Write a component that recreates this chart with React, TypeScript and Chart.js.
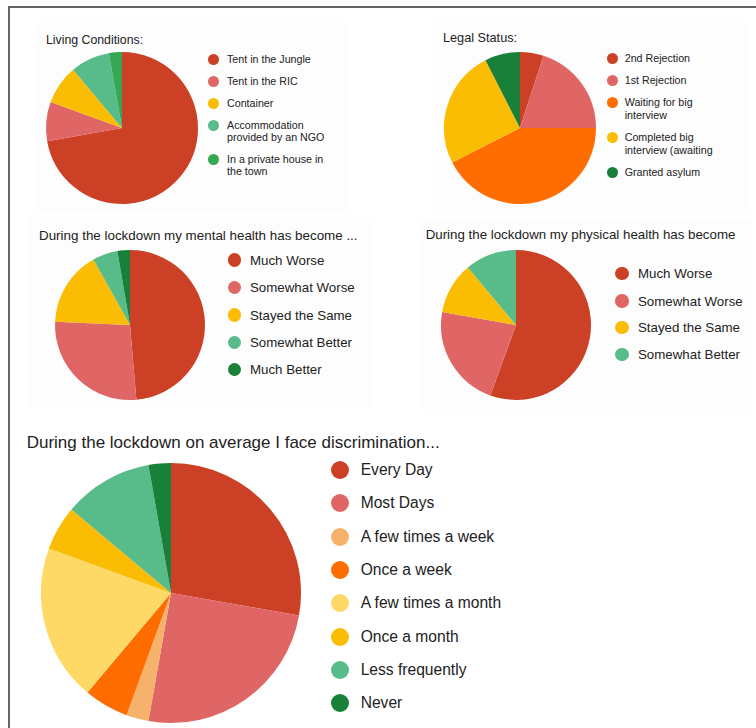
import React, { useEffect, useRef } from "react";
import { Chart, registerables } from "chart.js";

Chart.register(...registerables);

const RED = "#CC4125";
const PINK = "#E06666";
const LIGHT_ORANGE = "#F6B26B";
const ORANGE = "#FF6D01";
const LIGHT_YELLOW = "#FFD966";
const YELLOW = "#FBBC04";
const LIGHT_GREEN = "#57BB8A";
const GREEN = "#34A853";
const DARK_GREEN = "#188038";

// Living Conditions
const livingTitle = "Living Conditions:";
const livingLabels = [
  "Tent in the Jungle",
  "Tent in the RIC",
  "Container",
  "Accommodation provided by an NGO",
  "In a private house in the town",
];
const livingValues = [26, 3, 3, 3, 1];
const livingColors = [RED, PINK, YELLOW, LIGHT_GREEN, GREEN];

// Legal Status
const legalTitle = "Legal Status:";
const legalLabels = [
  "2nd Rejection",
  "1st Rejection",
  "Waiting for big interview",
  "Completed big interview (awaiting",
  "Granted asylum",
];
const legalValues = [2, 8, 17, 10, 3];
const legalColors = [RED, PINK, ORANGE, YELLOW, DARK_GREEN];

// Mental health
const mentalTitle = "During the lockdown my mental health has become ...";
const mentalLabels = ["Much Worse", "Somewhat Worse", "Stayed the Same", "Somewhat Better", "Much Better"];
const mentalValues = [18, 10, 6, 2, 1];
const mentalColors = [RED, PINK, YELLOW, LIGHT_GREEN, DARK_GREEN];

// Physical health
const physicalTitle = "During the lockdown my physical health has become";
const physicalLabels = ["Much Worse", "Somewhat Worse", "Stayed the Same", "Somewhat Better"];
const physicalValues = [20, 8, 4, 4];
const physicalColors = [RED, PINK, YELLOW, LIGHT_GREEN];

// Discrimination
const discTitle = "During the lockdown on average I face discrimination...";
const discLabels = [
  "Every Day",
  "Most Days",
  "A few times a week",
  "Once a week",
  "A few times a month",
  "Once a month",
  "Less frequently",
  "Never",
];
const discValues = [10, 9, 1, 2, 7, 2, 4, 1];
const discColors = [RED, PINK, LIGHT_ORANGE, ORANGE, LIGHT_YELLOW, YELLOW, LIGHT_GREEN, DARK_GREEN];

const FONT = '"Liberation Sans", Arial, sans-serif';
const TEXT = "#222222";

type PieProps = { labels: string[]; values: number[]; colors: string[]; cx: number; cy: number; r: number };

function Pie({ labels, values, colors, cx, cy, r }: PieProps) {
  const ref = useRef<HTMLCanvasElement | null>(null);
  const pad = 4;
  const size = 2 * (r + pad);
  useEffect(() => {
    if (!ref.current) return;
    const chart = new Chart(ref.current, {
      type: "pie",
      data: {
        labels,
        datasets: [
          {
            data: values,
            backgroundColor: colors,
            borderWidth: 0,
            hoverOffset: 0,
          },
        ],
      },
      options: {
        responsive: false,
        animation: false,
        radius: r,
        layout: { padding: 0 },
        plugins: { legend: { display: false }, tooltip: { enabled: false }, title: { display: false } },
        events: [],
      } as any,
    });
    return () => chart.destroy();
  }, []);
  return (
    <canvas
      ref={ref}
      width={size}
      height={size}
      style={{ position: "absolute", left: cx - r - pad, top: cy - r - pad, width: size, height: size }}
    />
  );
}

type LegendProps = {
  labels: string[];
  colors: string[];
  dotX: number;
  textX: number;
  ys: number[];
  dot: number;
  fontSize: number;
  lineHeight: number;
  maxWidth: number;
};

function Legend({ labels, colors, dotX, textX, ys, dot, fontSize, lineHeight, maxWidth }: LegendProps) {
  return (
    <>
      {labels.map((l, i) => (
        <React.Fragment key={i}>
          <div
            style={{
              position: "absolute",
              left: dotX - dot / 2,
              top: ys[i] - dot / 2,
              width: dot,
              height: dot,
              borderRadius: "50%",
              background: colors[i],
            }}
          />
          <div
            style={{
              position: "absolute",
              left: textX,
              top: ys[i] - lineHeight / 2,
              width: maxWidth,
              fontFamily: FONT,
              fontSize,
              lineHeight: lineHeight + "px",
              color: TEXT,
              whiteSpace: "normal",
            }}
          >
            {l}
          </div>
        </React.Fragment>
      ))}
    </>
  );
}

function Title({ text, x, y, size }: { text: string; x: number; y: number; size: number }) {
  return (
    <div
      style={{
        position: "absolute",
        left: x,
        top: y - size * 0.6,
        fontFamily: FONT,
        fontSize: size,
        lineHeight: size * 1.2 + "px",
        color: TEXT,
        whiteSpace: "nowrap",
      }}
    >
      {text}
    </div>
  );
}

function Panel({ x, y, w, h }: { x: number; y: number; w: number; h: number }) {
  return <div style={{ position: "absolute", left: x, top: y, width: w, height: h, background: "#fdfdfd" }} />;
}

export default function App() {
  return (
    <div
      style={{
        position: "absolute",
        left: 0,
        top: 0,
        width: 756,
        height: 728,
        background: "#ffffff",
        overflow: "hidden",
      }}
    >
      <div style={{ position: "absolute", left: 9, top: 6, width: 747, height: 2, background: "#666" }} />
      <div style={{ position: "absolute", left: 8, top: 6, width: 2, height: 722, background: "#666" }} />

      <Panel x={37} y={22} w={310} h={191} />
      <Panel x={433} y={18} w={313} h={197} />
      <Panel x={28} y={217} w={342} h={191} />
      <Panel x={418} y={220} w={333} h={190} />

      {/* Living conditions */}
      <Title text={livingTitle} x={46} y={40} size={12.3} />
      <Pie labels={livingLabels} values={livingValues} colors={livingColors} cx={122} cy={128} r={76} />
      <Legend
        labels={livingLabels}
        colors={livingColors}
        dotX={213.5}
        textX={227}
        ys={[59, 81, 103, 125, 159]}
        dot={11}
        fontSize={10.7}
        lineHeight={12.5}
        maxWidth={102}
      />

      {/* Legal status */}
      <Title text={legalTitle} x={443} y={39} size={12.7} />
      <Pie labels={legalLabels} values={legalValues} colors={legalColors} cx={520} cy={128} r={76} />
      <Legend
        labels={legalLabels}
        colors={legalColors}
        dotX={612.5}
        textX={624.7}
        ys={[58, 80, 102, 137, 172]}
        dot={11}
        fontSize={10.7}
        lineHeight={13}
        maxWidth={92}
      />

      {/* Mental health */}
      <Title text={mentalTitle} x={39} y={236.5} size={13.4} />
      <Pie labels={mentalLabels} values={mentalValues} colors={mentalColors} cx={129.5} cy={324.5} r={75} />
      <Legend
        labels={mentalLabels}
        colors={mentalColors}
        dotX={234.5}
        textX={250}
        ys={[260, 287.5, 315, 342.3, 369.3]}
        dot={13.5}
        fontSize={13.3}
        lineHeight={15}
        maxWidth={130}
      />

      {/* Physical health */}
      <Title text={physicalTitle} x={425.7} y={235} size={13.3} />
      <Pie labels={physicalLabels} values={physicalValues} colors={physicalColors} cx={516} cy={324.5} r={75} />
      <Legend
        labels={physicalLabels}
        colors={physicalColors}
        dotX={622}
        textX={638}
        ys={[273.3, 301, 327.7, 354.3]}
        dot={13.5}
        fontSize={13.3}
        lineHeight={15}
        maxWidth={130}
      />

      {/* Discrimination */}
      <Title text={discTitle} x={26.7} y={442.7} size={17} />
      <Pie labels={discLabels} values={discValues} colors={discColors} cx={171.3} cy={593.3} r={130} />
      <Legend
        labels={discLabels}
        colors={discColors}
        dotX={340}
        textX={360.7}
        ys={[470, 503.3, 536.7, 570, 603.3, 636.7, 670, 703.3]}
        dot={18}
        fontSize={15.6}
        lineHeight={18}
        maxWidth={200}
      />
    </div>
  );
}
